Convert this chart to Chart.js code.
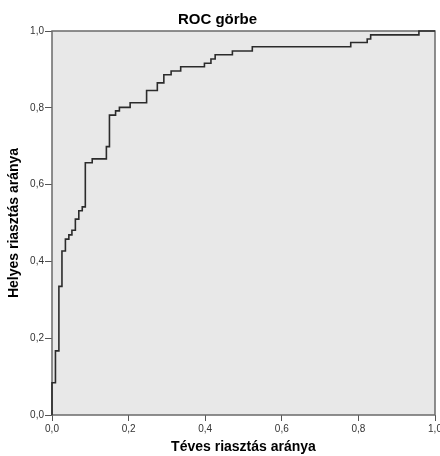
<!DOCTYPE html>
<html>
<head>
<meta charset="utf-8">
<script src="https://cdn.jsdelivr.net/npm/chart.js@4/dist/chart.umd.min.js"></script>
<style>
  body { margin: 0; background: #fff; }
  canvas { display: block; }
</style>
</head>
<body>
<canvas id="roc-chart" width="440" height="456"></canvas>
<script>
// ROC pontok (téves riasztás aránya, helyes riasztás aránya)
const fpr = [0, 0, 0.009, 0.018, 0.026, 0.035, 0.044, 0.052, 0.061, 0.070, 0.079,
  0.087, 0.105, 0.142, 0.150, 0.166, 0.176, 0.204, 0.247, 0.275, 0.292, 0.311,
  0.336, 0.398, 0.415, 0.426, 0.471, 0.523, 0.780, 0.823, 0.832, 0.958, 1.0];
const tpr = [0, 0.084, 0.167, 0.335, 0.427, 0.458, 0.469, 0.481, 0.510, 0.532, 0.542,
  0.657, 0.667, 0.699, 0.781, 0.792, 0.801, 0.813, 0.845, 0.865, 0.886, 0.896,
  0.907, 0.916, 0.927, 0.938, 0.948, 0.959, 0.970, 0.979, 0.990, 1.0, 1.0];
const tickValues = [0, 0.2, 0.4, 0.6, 0.8, 1.0];

const chartTitle = 'ROC görbe';
const xTitle = 'Téves riasztás aránya';
const yTitle = 'Helyes riasztás aránya';

const fontFamily = "'Liberation Sans', Arial, sans-serif";

function formatTick(value) {
  return value.toFixed(1).replace('.', ',');
}

// háttér és keret a rajzterület körül
const plotFrame = {
  id: 'plotFrame',
  beforeDraw(chart) {
    const { ctx, chartArea: a } = chart;
    ctx.save();
    ctx.fillStyle = '#e8e8e8';
    ctx.fillRect(a.left, a.top, a.right - a.left, a.bottom - a.top);
    ctx.restore();
  },
  beforeDatasetsDraw(chart) {
    const { ctx, chartArea: a } = chart;
    ctx.save();
    ctx.strokeStyle = '#6a6a6a';
    ctx.lineWidth = 1.5;
    ctx.strokeRect(a.left, a.top, a.right - a.left, a.bottom - a.top);
    ctx.restore();
  },
};

const ctx = document.getElementById('roc-chart');
new Chart(ctx, {
  type: 'line',
  data: {
    datasets: [
      {
        data: fpr.map((x, i) => ({ x, y: tpr[i] })),
        stepped: 'before',
        borderColor: '#2b2b2b',
        borderWidth: 1.6,
        pointRadius: 0,
        fill: false,
        clip: 3,
      },
    ],
  },
  options: {
    responsive: false,
    animation: false,
    layout: { padding: { left: 0, right: 5, top: 0, bottom: 0 } },
    plugins: {
      legend: { display: false },
      tooltip: { enabled: false },
      title: {
        display: true,
        text: chartTitle,
        color: '#000',
        font: { family: fontFamily, size: 15, weight: 'bold' },
        padding: { top: 11, bottom: 2 },
      },
    },
    scales: {
      x: {
        type: 'linear',
        min: 0,
        max: 1,
        afterBuildTicks(scale) {
          scale.ticks = tickValues.map((v) => ({ value: v }));
        },
        afterFit(scale) {
          scale.height = 41;
          scale.paddingLeft = 0;
          scale.paddingRight = 0;
        },
        border: { display: false },
        grid: {
          drawOnChartArea: false,
          drawTicks: true,
          tickLength: 6,
          tickColor: '#555',
          lineWidth: 1,
        },
        ticks: {
          padding: 2,
          color: '#333',
          maxRotation: 0,
          font: { family: fontFamily, size: 10 },
          callback: formatTick,
        },
        title: {
          display: true,
          text: xTitle,
          color: '#000',
          font: { family: fontFamily, size: 14, weight: 'bold' },
          padding: { top: 0, bottom: 0 },
        },
      },
      y: {
        type: 'linear',
        min: 0,
        max: 1,
        afterBuildTicks(scale) {
          scale.ticks = tickValues.map((v) => ({ value: v }));
        },
        afterFit(scale) {
          scale.width = 52;
        },
        border: { display: false },
        grid: {
          drawOnChartArea: false,
          drawTicks: true,
          tickLength: 7,
          tickColor: '#555',
          lineWidth: 1,
        },
        ticks: {
          padding: 1,
          color: '#333',
          font: { family: fontFamily, size: 10 },
          callback: formatTick,
        },
        title: {
          display: true,
          text: yTitle,
          color: '#000',
          font: { family: fontFamily, size: 14, weight: 'bold' },
          padding: { top: 5.6, bottom: 0 },
        },
      },
    },
  },
  plugins: [plotFrame],
});
</script>
</body>
</html>
